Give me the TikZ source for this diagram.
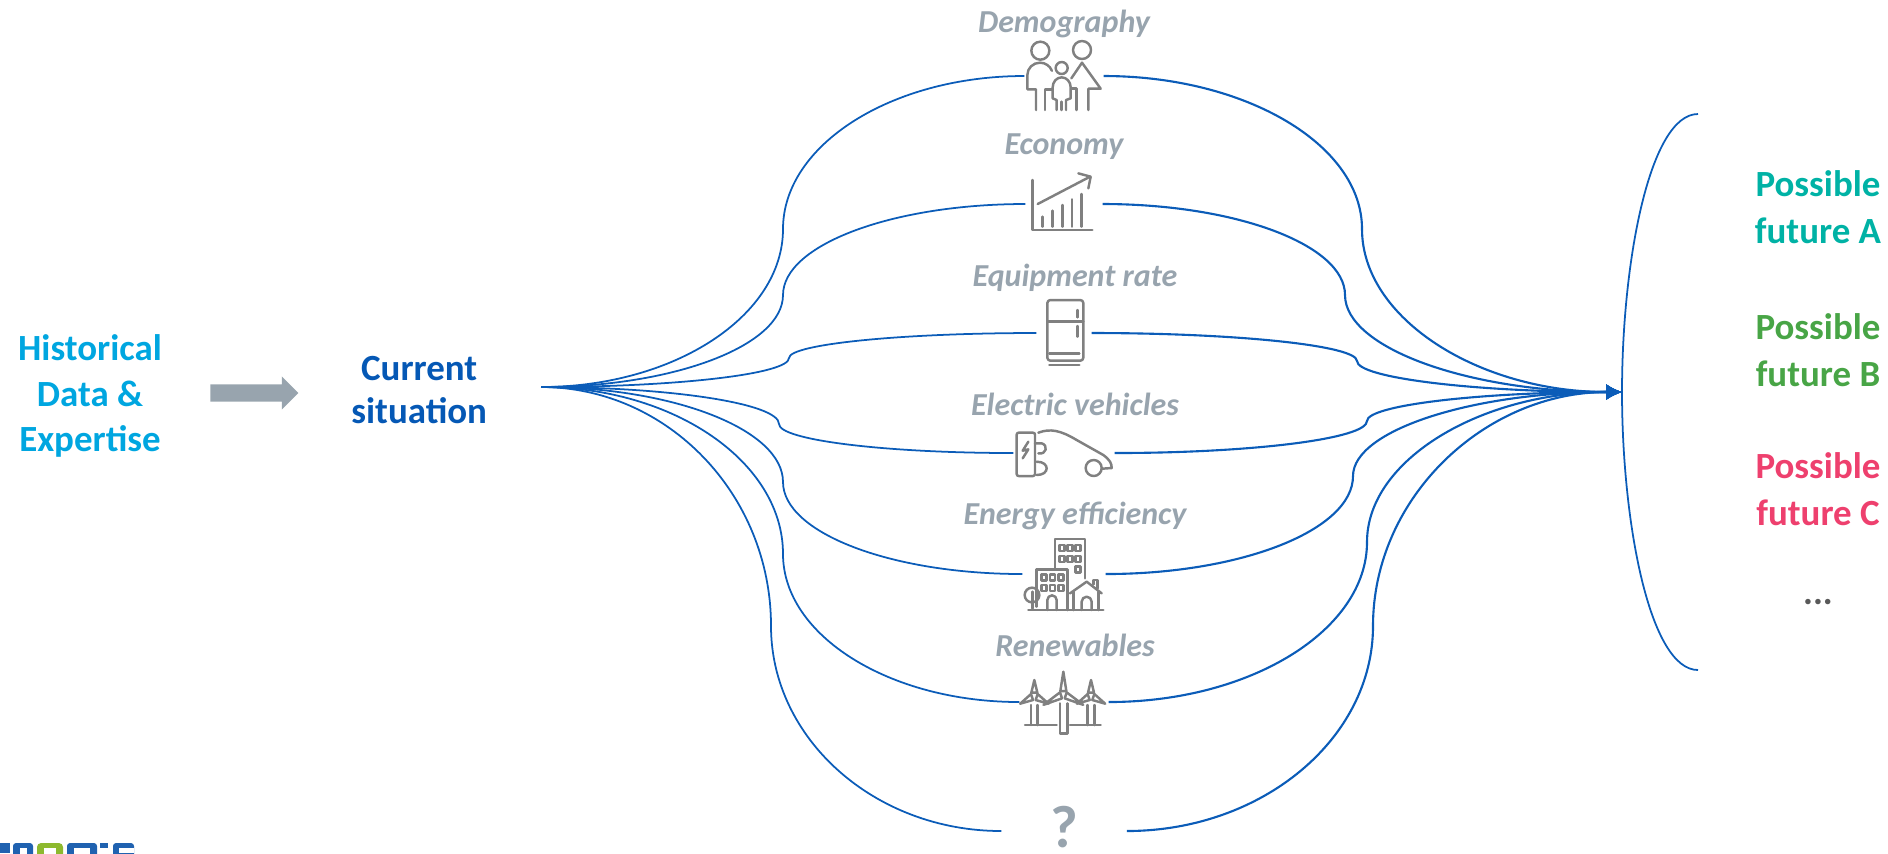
\documentclass[tikz,border=0pt]{standalone}
\usepackage{fontspec}
\setmainfont{Carlito}
\usetikzlibrary{positioning, calc, shapes.arrows, arrows.meta}

\definecolor{flowblue}{HTML}{0B5CB8}
\definecolor{histblue}{HTML}{00A6E0}
\definecolor{nowblue}{HTML}{0558B5}
\definecolor{labelgrey}{HTML}{98A4AE}
\definecolor{icongrey}{HTML}{808080}
\definecolor{teala}{HTML}{00B2A5}
\definecolor{greenb}{HTML}{48A546}
\definecolor{pinkc}{HTML}{EE406E}
\definecolor{logoblue}{HTML}{2062B0}
\definecolor{logogreen}{HTML}{8DB92E}

\tikzset{
    main/.style={align=center, font=\bfseries\fontsize{10.5}{12.9}\selectfont},
    factor/.style={text=labelgrey, font=\bfseries\itshape\fontsize{9.1}{11}\selectfont, on grid, inner sep=0pt},
    iconbox/.style={minimum height=.3cm, inner sep=0pt},
    flow/.style={draw=flowblue, line width=.5pt},
    flowin/.style={draw=flowblue, line width=.6pt, -{Latex[length=.16cm, width=.16cm]}},
    icon/.style={draw=icongrey, line width=.7pt, line join=round, line cap=round},
}

\begin{document}
\begin{tikzpicture}[x=.01cm, y=-.01cm]
    \useasboundingbox (0,0) rectangle (1888,853);

    \node [main, text=histblue] (history) at (90,396) {Historical\\Data \&\\Expertise};
    \node [single arrow, fill=labelgrey, minimum height=.88cm, inner xsep=0pt, inner ysep=.08cm, single arrow head extend=.08cm, on grid, right=1.60cm of history, yshift=.03cm] (push) {};
    \node [main, text=nowblue, font=\bfseries\fontsize{10.5}{12.4}\selectfont, on grid, right=1.69cm of push, yshift=.03cm] (current) {Current\\situation};

    \coordinate (now) at (541,387);
    \coordinate (goal) at (1622,392);

    \node [iconbox, minimum width=.78cm] (family) at (1064,76) {};
    \node [iconbox, minimum width=.76cm] (chart) at (1064,204) {};
    \node [iconbox, minimum width=.54cm] (fridge) at (1064,333) {};
    \node [iconbox, minimum width=1.00cm] (car) at (1064,453) {};
    \node [iconbox, minimum width=.82cm] (city) at (1064,574) {};
    \node [iconbox, minimum width=.88cm] (wind) at (1064,702) {};
    \node [iconbox, minimum width=1.24cm, text=labelgrey, text depth=.09cm, font=\bfseries\fontsize{17}{20}\selectfont] (unknown) at (1064,831) {?};

    \node [factor, above=.52cm of family] (family label) {Demography};
    \node [factor, above=.57cm of chart] (chart label) {Economy};
    \node [factor, above=.55cm of fridge, xshift=.11cm] (fridge label) {Equipment rate};
    \node [factor, above=.49cm of car, xshift=.11cm] (car label) {Electric vehicles};
    \node [factor, above=.58cm of city, xshift=.11cm] (city label) {Energy efficiency};
    \node [factor, above=.57cm of wind, xshift=.11cm] (wind label) {Renewables};

    % left and right halves of every curve
    \foreach \icon/\lx/\ly/\rx/\ry in {family/783/229/1362/229, chart/783/295/1345/295, fridge/789/358/1357/361, car/779/424/1367/421, city/783/482/1353/476, wind/783/554/1367/542, unknown/771/626/1373/626} {
        \coordinate (lm) at (\lx,\ly);
        \coordinate (rm) at (\rx,\ry);
        \draw [flow] (now) .. controls ($(now)!.55!(lm |- now)$) and ($(lm)!.55!(lm |- now)$) .. (lm)
            .. controls ($(lm)!.55!(lm |- \icon.west)$) and ($(\icon.west)!.55!(lm |- \icon.west)$) .. (\icon.west);
        \draw [flowin] (\icon.east) .. controls ($(\icon.east)!.55!(rm |- \icon.east)$) and ($(rm)!.55!(rm |- \icon.east)$) .. (rm)
            .. controls ($(rm)!.55!(rm |- goal)$) and ($(goal)!.55!(rm |- goal)$) .. (goal);
    }

    % bracket
    \draw [flow] (1698,114) .. controls (1650,114) and (1622,260) .. (goal) .. controls (1622,524) and (1650,670) .. (1698,670);

    \node [main, font=\bfseries\fontsize{10.5}{13.2}\selectfont, text=teala] (future a) at (1818,207) {Possible\\future A};
    \node [main, font=\bfseries\fontsize{10.5}{13.2}\selectfont, text=greenb] (future b) at (1818,350) {Possible\\future B};
    \node [main, font=\bfseries\fontsize{10.5}{13.2}\selectfont, text=pinkc] (future c) at (1818,489) {Possible\\future C};
    \node [main, text=black!65] (more) at (1818,602) {...};

    % family
    \begin{scope}[shift={(900,0)}, x=.01cm/3, y=-.01cm/3, icon]
        \draw (421,152) circle (27);
        \draw (546,150) circle (27);
        \draw (485,204) circle (18);
        \draw (408,330) -- (408,268) -- (382,268) -- (382,225) arc (-180:-20:38 and 37);
        \draw (435,330) -- (435,268) -- (455,268);
        \draw (470,330) -- (470,300) -- (458,295) -- (458,262) arc (-180:0:27 and 30) -- (512,295) -- (498,300) -- (498,330);
        \draw (485,305) -- (485,330);
        \draw (514,235) -- (546,188) -- (602,266) -- (565,266) -- (565,330);
        \draw (530,330) -- (530,266) -- (516,266);
        % chart
        \draw (397,540) -- (397,690) -- (577,690);
        \foreach \bx/\by in {427/650, 457/632, 487/615, 516/598, 545/582}
            \draw (\bx,680) -- (\bx,\by);
        \draw (413,612) -- (570,530);
        \draw (535,520) -- (572,530) -- (565,565);
    \end{scope}

    % fridge
    \begin{scope}[shift={(1020,290)}, x=.01cm/3, y=-.01cm/3, icon]
        \draw [rounded corners=.03cm] (82,30) rectangle (190,212);
        \draw (82,95) -- (190,95);
        \draw (173,60) -- (173,82);
        \draw (173,108) -- (173,140);
        \draw (88,190) -- (178,190);
        \draw (88,225) -- (178,225);
    \end{scope}

    % car and charger
    \begin{scope}[shift={(900,380)}, x=.01cm/3, y=-.01cm/3, icon]
        \draw [rounded corners=.02cm] (350,158) rectangle (405,288);
        \draw (385,185) -- (368,212) -- (385,208) -- (368,235);
        \draw (405,190) -- (425,190) .. controls (445,195) and (440,225) .. (415,220);
        \draw (410,245) .. controls (450,245) and (450,285) .. (410,285);
        \draw (415,158) .. controls (450,145) and (480,150) .. (530,180) -- (610,225) .. controls (630,240) and (635,250) .. (635,264) -- (606,266);
        \draw (581,264) circle (24);
    \end{scope}

    % buildings
    \begin{scope}[shift={(1010,535)}, x=.01cm/3, y=-.01cm/3, icon]
        \draw (135,100) -- (135,12) -- (225,12) -- (225,130);
        \draw (80,215) -- (80,103) -- (172,103) -- (172,225);
        \foreach \wx/\wy in {148/30, 172/30, 197/30, 148/63, 172/63, 197/63, 197/95, 95/118, 120/118, 145/118, 95/150, 120/150, 145/150}
            \draw (\wx,\wy) rectangle +(15,18);
        \draw (112,225) -- (112,195) arc (-180:0:14) -- (140,225);
        \draw (66,180) circle (22);
        \draw (68,170) -- (68,220);
        \draw (55,225) -- (280,225);
        \draw (180,175) -- (230,140) -- (275,175);
        \draw (190,170) -- (190,225);
        \draw (265,170) -- (265,225);
        \draw (215,225) -- (215,200) arc (-180:0:15) -- (245,225);
        \draw (250,148) -- (250,135) -- (263,135) -- (263,160);
    \end{scope}

    % turbines
    \begin{scope}[shift={(1010,670)}, x=.01cm/3, y=-.01cm/3, icon]
        \foreach \tx/\ty/\tr in {73/80/50, 243/80/50, 160/75/70} {
            \draw (\tx,\ty-\tr) -- (\tx-9,\ty-12) -- (\tx+9,\ty-12) -- cycle;
            \draw (\tx-\tr*.85,\ty+\tr*.42) -- (\tx-10,\ty-8) -- (\tx-4,\ty+10) -- cycle;
            \draw (\tx+\tr*.85,\ty+\tr*.42) -- (\tx+10,\ty-8) -- (\tx+4,\ty+10) -- cycle;
        }
        \draw (63,105) -- (63,165);
        \draw (82,105) -- (82,165);
        \draw (233,105) -- (233,165);
        \draw (253,105) -- (253,165);
        \draw (150,100) -- (150,190) -- (172,190) -- (172,100);
        \draw (45,165) -- (140,165);
        \draw (180,165) -- (272,165);
    \end{scope}

    % cropped logo along the lower edge
    \begin{scope}
        \clip (0,843) rectangle (134,853);
        \fill [logoblue] (0,843) rectangle (10,853);
        \fill [logoblue, rounded corners=.03cm] (13,843) rectangle (33,870);
        \fill [white] (20,848) rectangle (27,870);
        \fill [logogreen, rounded corners=.04cm] (37,843) rectangle (63,870);
        \fill [white] (44,848) rectangle (56,870);
        \fill [logoblue, rounded corners=.03cm] (67,843) rectangle (97,870);
        \fill [white] (74,848) rectangle (90,870);
        \fill [logoblue] (100,843) rectangle (108,848);
        \fill [logoblue, rounded corners=.03cm] (113,843) rectangle (134,870);
        \fill [white] (119,848) rectangle (134,853);
    \end{scope}
\end{tikzpicture}
\end{document}
